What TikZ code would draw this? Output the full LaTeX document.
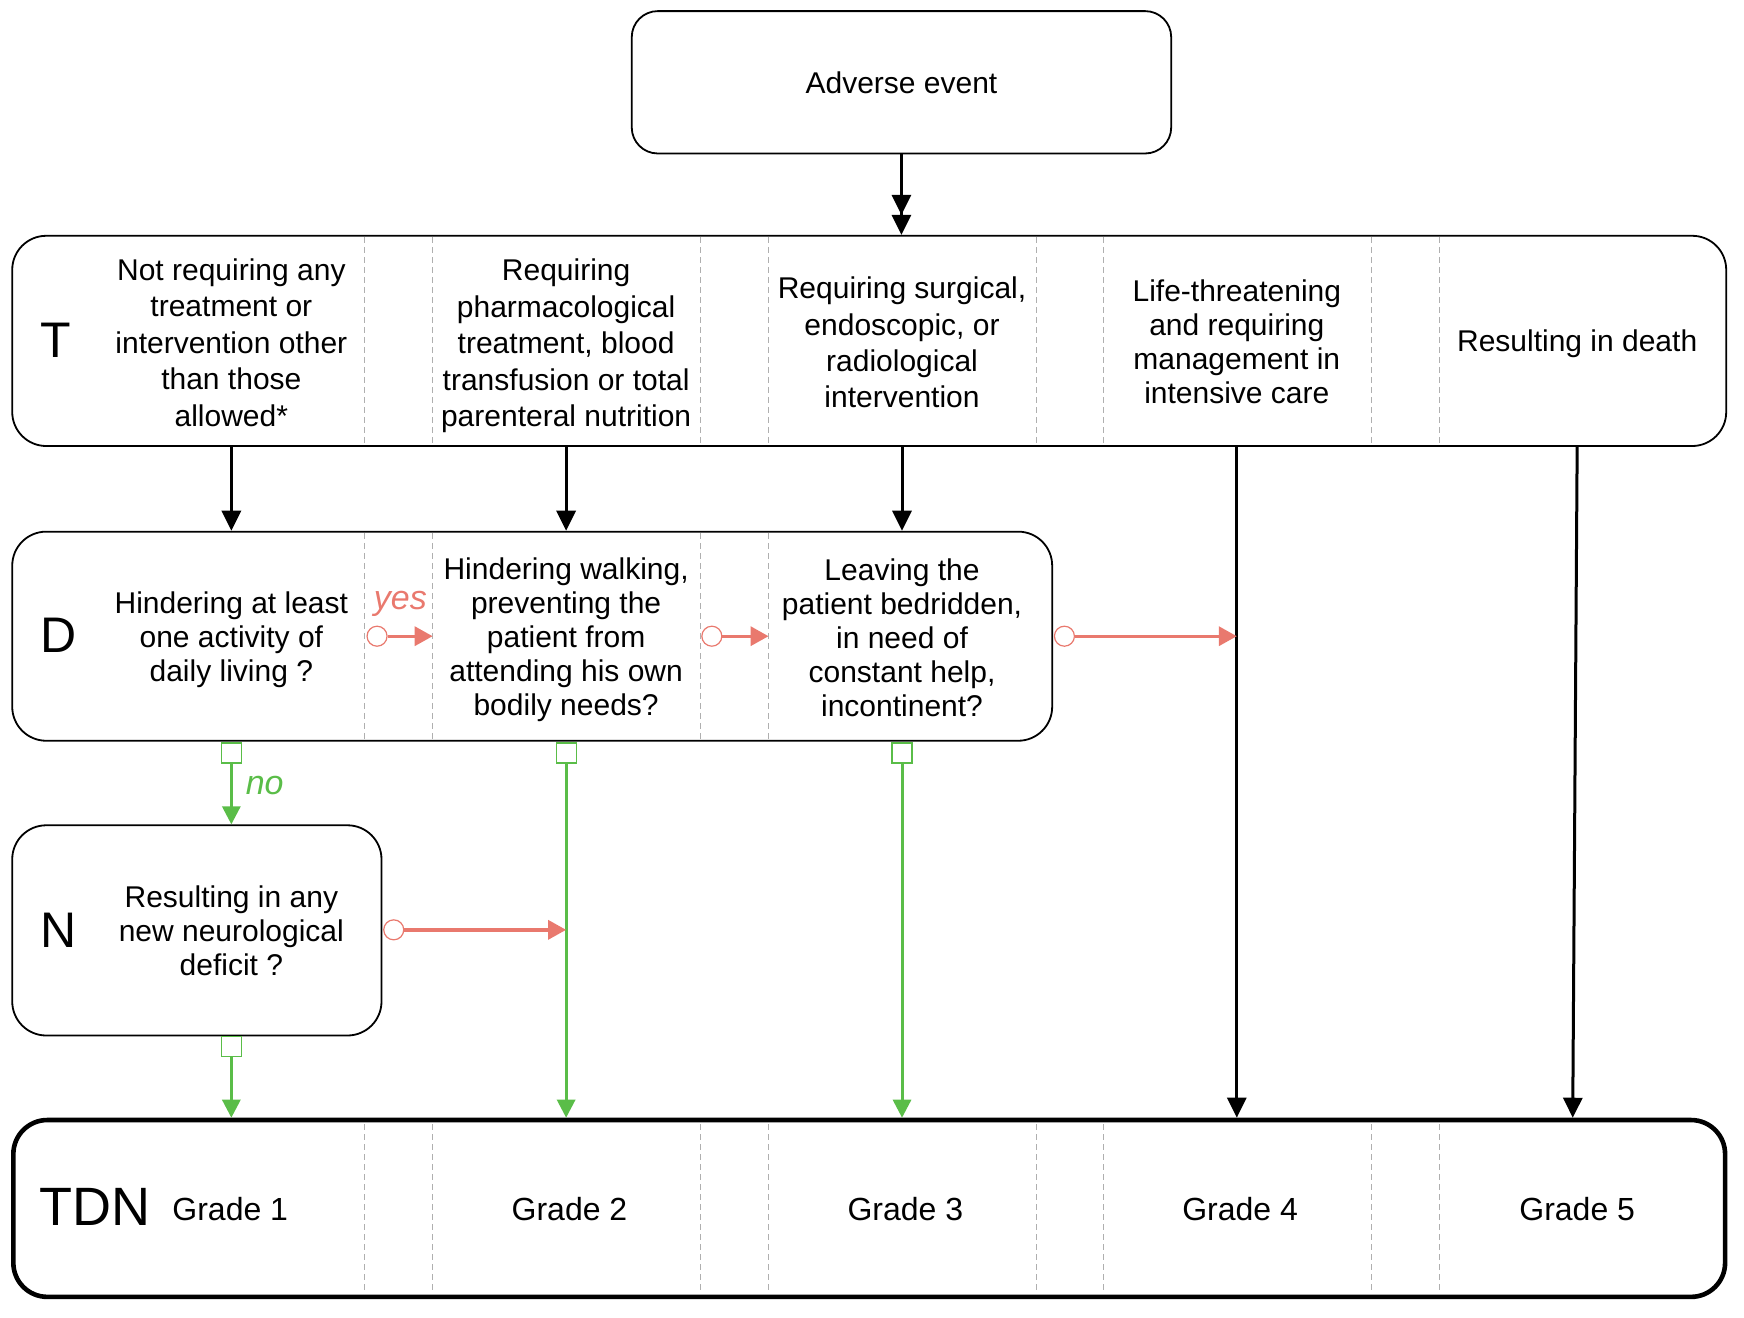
\documentclass[tikz,border=0pt]{standalone}
\usepackage{fontspec}
\setmainfont{Liberation Sans}
\usetikzlibrary{arrows.meta,fit}
\definecolor{sred}{RGB}{233,121,110}
\definecolor{sgreen}{RGB}{90,189,72}
\definecolor{dgray}{RGB}{175,175,175}
\tikzset{
  box/.style={draw, line width=0.9pt, inner sep=0pt, rounded corners=17pt},
  txt/.style={align=center, inner sep=0pt, font=\fontsize{15}{18.2}\selectfont},
  txtb/.style={align=center, inner sep=0pt, font=\fontsize{15}{17}\selectfont},
  big/.style={inner sep=0pt, font=\fontsize{25}{30}\selectfont},
  grade/.style={inner sep=0pt, font=\fontsize{16}{19}\selectfont},
  divider/.style={dgray, line width=0.5pt, dash pattern=on 3pt off 2pt},
  blk/.style={line width=1.5pt, -{Triangle[length=10pt,width=9.5pt]}},
  dblk/.style={line width=1.5pt, -{Triangle[length=10pt,width=9.5pt]Triangle[length=10pt,width=9.5pt]}},
  grn/.style={sgreen, line width=1.5pt, -{Triangle[length=9pt,width=9pt]}},
  rd/.style={sred, line width=1.7pt, -{Triangle[length=9pt,width=9.5pt]}},
  gsq/.style={draw=sgreen, fill=white, minimum size=10pt, inner sep=0pt, line width=0.6pt},
  rcirc/.style={circle, draw=sred, fill=white, minimum size=10pt, inner sep=0pt, line width=0.6pt},
  lab/.style={inner sep=0pt, font=\fontsize{17}{20}\selectfont\itshape},
}
\begin{document}
\begin{tikzpicture}[x=0.5561pt,y=-0.5561pt]
\useasboundingbox (0,0) rectangle (1568,1185);

% boxes
\node[box, rounded corners=13pt, fit={(568,10) (1053,138)}] (ae) {};
\node[txt] at (ae.center) {Adverse event};
\node[box, fit={(11,212) (1552,401)}] (T) {};
\node[box, fit={(11,478) (946,666)}] (D) {};
\node[box, fit={(11,742) (343,931)}] (N) {};
\node[box, line width=2.3pt, fit={(12,1007) (1551,1166)}] (TDN) {};

% dividers
\foreach \x in {328,389,630,691,932,992,1233,1294} {
  \draw[divider] (\x,213) -- (\x,400);
  \draw[divider] (\x,1011) -- (\x,1162);
}
\foreach \x in {328,389,630,691} {
  \draw[divider] (\x,479) -- (\x,665);
}

% big letters
\node[big] (lT) at (50,306) {T};
\node[big] (lD) at (53,571) {D};
\node[big] (lN) at (53,836) {N};
\node[big, font=\fontsize{27}{32}\selectfont] (lTDN) at (85,1085) {TDN};

% T row
\node[txt] (t1) at (208,308) {Not requiring any\\treatment or\\intervention other\\than those\\allowed*};
\node[txt] (t2) at (509,311) {Requiring\\pharmacological\\treatment, blood\\transfusion or total\\parenteral nutrition};
\node[txt] (t3) at (811,308) {Requiring surgical,\\endoscopic, or\\radiological\\intervention};
\node[txtb] (t4) at (1112,307) {Life-threatening\\and requiring\\management in\\intensive care};
\node[txt] (t5) at (1418,309) {Resulting in death};

% D row
\node[txtb] (d1) at (208,575) {Hindering at least\\one activity of\\daily living ?};
\node[txtb] (d2) at (509,575) {Hindering walking,\\preventing the\\patient from\\attending his own\\bodily needs?};
\node[txtb] (d3) at (811,573) {Leaving the\\patient bedridden,\\in need of\\constant help,\\incontinent?};

% N row
\node[txtb] (n1) at (208,837) {Resulting in any\\new neurological\\deficit ?};

% grades
\node[grade] (g1) at (207,1087) {Grade 1};
\node[grade] (g2) at (512,1087) {Grade 2};
\node[grade] (g3) at (814,1087) {Grade 3};
\node[grade] (g4) at (1115,1087) {Grade 4};
\node[grade] (g5) at (1418,1087) {Grade 5};

% column coordinates
\coordinate (x1) at (208,0);
\coordinate (x2) at (509,0);
\coordinate (x3) at (811,0);
\coordinate (x4) at (1112,0);
\coordinate (x5a) at (1418,0);
\coordinate (x5b) at (1414,0);
\coordinate (c2l) at (389,0);
\coordinate (c3l) at (691,0);

% black arrows
\draw[dblk] (ae.south) -- (T.north -| ae.south);
\draw[blk] (T.south -| x1) -- (D.north -| x1);
\draw[blk] (T.south -| x2) -- (D.north -| x2);
\draw[blk] (T.south -| x3) -- (D.north -| x3);
\draw[blk] (T.south -| x4) -- (TDN.north -| x4);
\draw[blk] (T.south -| x5a) -- (TDN.north -| x5b);

% red (yes) arrows
\node[rcirc] (r1) at (339,572) {};
\node[rcirc] (r2) at (640,572) {};
\node[rcirc] (r3) at (957,572) {};
\node[rcirc] (r4) at (354,836) {};
\draw[rd] (r1.east) -- (r1 -| c2l);
\draw[rd] (r2.east) -- (r2 -| c3l);
\draw[rd] (r3.east) -- (r3 -| x4);
\node[lab, text=sred] (yes) at (360,543) {yes};

% green (no) arrows
\node[gsq] (s1) at (208,677) {};
\node[gsq] (s2) at (509,677) {};
\node[gsq] (s3) at (811,677) {};
\node[gsq] (s4) at (208,941) {};
\draw[grn] (s1.south) -- (N.north -| s1);
\draw[grn] (s2.south) -- (TDN.north -| s2);
\draw[grn] (s3.south) -- (TDN.north -| s3);
\draw[grn] (s4.south) -- (TDN.north -| s4);
\draw[rd] (r4.east) -- (r4 -| s2);
\node[lab, text=sgreen] (no) at (238,706) {no};
\end{tikzpicture}
\end{document}
